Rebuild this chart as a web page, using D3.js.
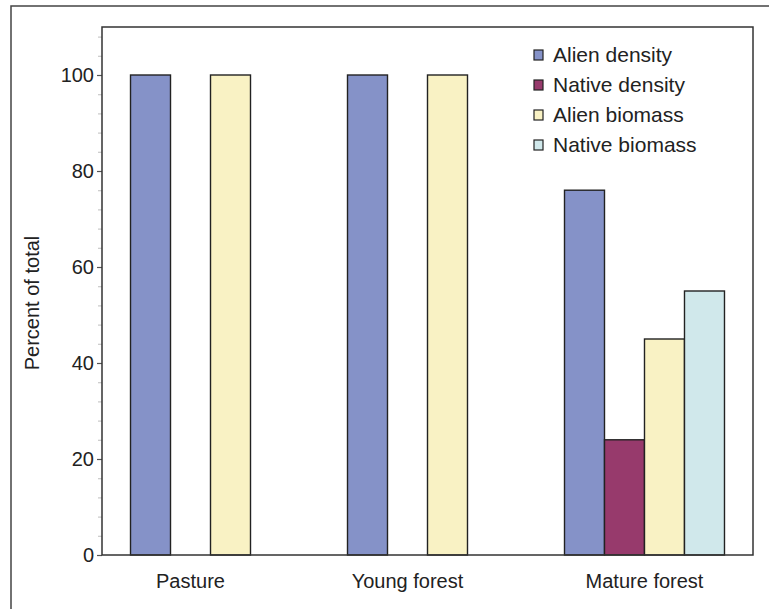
<!DOCTYPE html>
<html lang="en">
<head>
    <meta charset="UTF-8">
    <title>Percent of total</title>
    <script src="https://cdn.jsdelivr.net/npm/d3@7"></script>
    <style>
        body { margin: 0; background: #fff; }
        text { font-family: "Liberation Sans", Arial, sans-serif; fill: #222; }
    </style>
</head>
<body>
<script type="text/javascript">
    var categories = ["Pasture", "Young forest", "Mature forest"];
    var series = ["Alien density", "Native density", "Alien biomass", "Native biomass"];
    var alienDensity = [100, 100, 76];
    var nativeDensity = [0, 0, 24];
    var alienBiomass = [100, 100, 45];
    var nativeBiomass = [0, 0, 55];
    var yTicks = [0, 20, 40, 60, 80, 100];
    var colors = ["#8592c8", "#973a6c", "#f9f2c4", "#d0e8eb"];

    var width = 769, height = 609;
    var plotLeft = 102, plotRight = 753, plotTop = 27, plotBottom = 555;

    var svg = d3.select('body').append('svg')
            .attr('width', width)
            .attr('height', height);

    // outer frame (cropped figure border)
    svg.append('path')
            .attr('d', 'M11,' + height + 'V6H' + width)
            .attr('fill', 'none')
            .attr('stroke', '#444')
            .attr('stroke-width', 1.5);

    var x = d3.scaleBand()
            .domain(categories)
            .range([plotLeft, plotRight])
            .paddingInner(0.2627)
            .paddingOuter(0.1314);
    var xs = d3.scaleBand()
            .domain(series)
            .range([0, x.bandwidth()]);
    var y = d3.scaleLinear()
            .domain([0, 110])
            .range([plotBottom, plotTop]);

    var values = [alienDensity, nativeDensity, alienBiomass, nativeBiomass];
    var rows = [];
    categories.forEach(function (c, i) {
        series.forEach(function (s, j) {
            rows.push({cat: c, ser: s, idx: j, value: values[j][i]});
        });
    });

    // minor ticks
    var minor = d3.range(0, 111, 4).filter(function (v) { return v % 20 !== 0; });
    svg.append('g')
            .attr('transform', 'translate(' + plotLeft + ',0)')
            .call(d3.axisLeft(y).tickValues(minor).tickSize(4).tickFormat(''))
            .call(function (g) {
                g.select('.domain').remove();
                g.selectAll('line').attr('stroke', '#c8c8c8').attr('stroke-width', 1.2);
            });

    // major ticks
    svg.append('g')
            .attr('transform', 'translate(' + plotLeft + ',0)')
            .call(d3.axisLeft(y).tickValues(yTicks).tickSize(5).tickPadding(3))
            .call(function (g) {
                g.select('.domain').remove();
                g.selectAll('line').attr('stroke', '#555').attr('stroke-width', 1.2);
                g.selectAll('text').style('font-size', '20px').attr('fill', '#222')
                        .style('font-family', '"Liberation Sans", Arial, sans-serif');
            });

    // bars
    svg.selectAll('.bar')
            .data(rows.filter(function (d) { return d.value > 0; }))
            .enter()
            .append('rect')
            .attr('class', 'bar')
            .attr('x', function (d) { return x(d.cat) + xs(d.ser); })
            .attr('y', function (d) { return y(d.value); })
            .attr('width', xs.bandwidth())
            .attr('height', function (d) { return y(0) - y(d.value); })
            .attr('fill', function (d) { return colors[d.idx]; })
            .attr('stroke', '#222')
            .attr('stroke-width', 1.4);

    // plot frame
    svg.append('rect')
            .attr('x', plotLeft)
            .attr('y', plotTop)
            .attr('width', plotRight - plotLeft)
            .attr('height', plotBottom - plotTop)
            .attr('fill', 'none')
            .attr('stroke', '#333')
            .attr('stroke-width', 1.5);

    // category labels, centred under the bars that are drawn
    svg.selectAll('.catLabel')
            .data(categories)
            .enter()
            .append('text')
            .attr('class', 'catLabel')
            .attr('x', function (c) {
                var drawn = rows.filter(function (d) { return d.cat === c && d.value > 0; });
                var x0 = d3.min(drawn, function (d) { return x(c) + xs(d.ser); });
                var x1 = d3.max(drawn, function (d) { return x(c) + xs(d.ser) + xs.bandwidth(); });
                return (x0 + x1) / 2;
            })
            .attr('y', 588)
            .attr('text-anchor', 'middle')
            .style('font-size', '20px')
            .text(function (c) { return c; });

    // y axis title
    svg.append('text')
            .attr('transform', 'translate(39,303) rotate(-90)')
            .attr('text-anchor', 'middle')
            .style('font-size', '20px')
            .text('Percent of total');

    // legend
    var legend = svg.selectAll('.legend')
            .data(series)
            .enter()
            .append('g')
            .attr('class', 'legend')
            .attr('transform', function (d, i) {
                return 'translate(534,' + (50 + i * 30) + ')';
            });
    legend.append('rect')
            .attr('width', 9)
            .attr('height', 10)
            .attr('fill', function (d, i) { return colors[i]; })
            .attr('stroke', '#222')
            .attr('stroke-width', 1.2);
    legend.append('text')
            .attr('x', 19)
            .attr('y', 12)
            .style('font-size', '21px')
            .text(function (d) { return d; });
</script>
</body>
</html>
